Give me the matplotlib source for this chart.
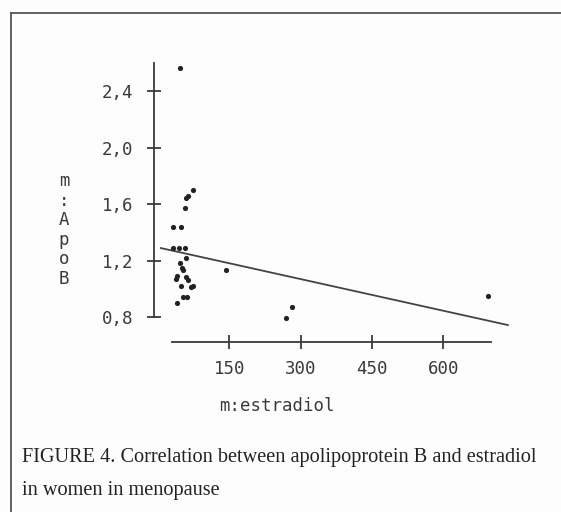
import matplotlib
matplotlib.use("Agg")
import matplotlib.pyplot as plt
from matplotlib.lines import Line2D

# ---- data ----
estradiol = [46, 74, 63, 59, 57, 32, 48, 32, 44, 57, 59, 46, 50, 53, 40, 38,
             59, 63, 48, 69, 74, 53, 61, 40, 143, 282, 269, 694]
apob = [2.56, 1.70, 1.66, 1.64, 1.57, 1.44, 1.44, 1.29, 1.29, 1.29, 1.22, 1.18,
        1.15, 1.13, 1.09, 1.07, 1.08, 1.06, 1.02, 1.01, 1.02, 0.94, 0.94, 0.90,
        1.13, 0.87, 0.79, 0.95]
fit_x = [6, 736]
fit_y = [1.288, 0.743]
x_ticks = [150, 300, 450, 600]
x_tick_labels = ["150", "300", "450", "600"]
y_ticks = [0.8, 1.2, 1.6, 2.0, 2.4]
y_tick_labels = ["0,8", "1,2", "1,6", "2,0", "2,4"]
x_label = "m:estradiol"
y_label = "m:ApoB"
caption = ["FIGURE 4. Correlation between apolipoprotein B and estradiol",
           "in women in menopause"]

W, H = 561, 512
fig = plt.figure(figsize=(W / 100, H / 100), dpi=100)
fig.patch.set_facecolor("#fdfdfd")

# axes placement (pixel geometry)
x0, x1 = -20, 760
y0, y1 = 0.55, 2.7
def px_x(v):
    return 158 + 0.4753 * v
def px_y(v):
    return 317 - (v - 0.8) * 141.25
left = px_x(x0) / W
right = px_x(x1) / W
top = 1 - px_y(y1) / H
bottom = 1 - px_y(y0) / H
ax = fig.add_axes([left, bottom, right - left, top - bottom])
ax.set_xlim(x0, x1)
ax.set_ylim(y0, y1)
ax.patch.set_alpha(0)

axis_col = "#3a3a3a"
txt_col = "#3a3a3a"
ax.spines["top"].set_visible(False)
ax.spines["right"].set_visible(False)
ax.spines["left"].set_position(("data", -8.4))
ax.spines["left"].set_bounds(0.8, 2.6)
ax.spines["bottom"].set_position(("data", 0.623))
ax.spines["bottom"].set_bounds(29.5, 700)
for s in ("left", "bottom"):
    ax.spines[s].set_color(axis_col)
    ax.spines[s].set_linewidth(1.3)

mono = "DejaVu Sans Mono"
fs = 12.5
ax.set_xticks(x_ticks)
ax.set_xticklabels(x_tick_labels, fontfamily=mono, fontsize=fs, color=txt_col)
ax.set_yticks(y_ticks)
ax.set_yticklabels(y_tick_labels, fontfamily=mono, fontsize=fs, color=txt_col)
ax.tick_params(axis="both", direction="inout", length=9.4, width=1.3,
               color=axis_col)
ax.tick_params(axis="y", pad=10.0)
ax.tick_params(axis="x", pad=8.5)

ax.scatter(estradiol, apob, s=14, color="#222222", linewidths=0, zorder=3)
ax.plot(fit_x, fit_y, color="#444444", lw=1.3)

# axis labels
fig.text(277 / W, 1 - 406 / H, x_label, fontfamily=mono, fontsize=fs,
         color=txt_col, ha="center", va="center")
fig.text(64 / W, 1 - 230 / H, "\n".join(y_label), fontfamily=mono,
         fontsize=fs, color=txt_col, ha="center", va="center",
         linespacing=1.1)

# frame box (open at right / bottom, cropped)
fig.add_artist(Line2D([11 / W, 11 / W], [0, 1 - 13 / H], color="#555555",
                      lw=1.3, transform=fig.transFigure))
fig.add_artist(Line2D([11 / W, 1], [1 - 13 / H, 1 - 13 / H], color="#555555",
                      lw=1.3, transform=fig.transFigure))

# caption
fig.text(22 / W, 1 - 462 / H, caption[0], fontfamily="Liberation Serif",
         fontsize=14.6, color="#222222", ha="left", va="baseline")
fig.text(22 / W, 1 - 495 / H, caption[1], fontfamily="Liberation Serif",
         fontsize=14.6, color="#222222", ha="left", va="baseline")

fig.savefig("out.png", dpi=100, facecolor=fig.get_facecolor())
